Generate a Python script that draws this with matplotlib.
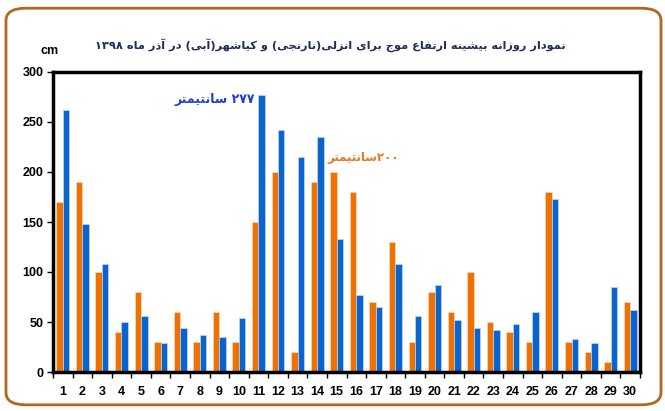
import numpy as np
import matplotlib.pyplot as plt
from matplotlib.patches import FancyBboxPatch

days = list(range(1, 31))
anzali = [170, 190, 100, 40, 80, 30, 60, 30, 60, 30, 150, 200, 20, 190, 200,
          180, 70, 130, 30, 80, 60, 100, 50, 40, 30, 180, 30, 20, 10, 70]
kiashahr = [262, 148, 108, 50, 56, 29, 44, 37, 35, 54, 277, 242, 215, 235, 133,
            77, 65, 108, 56, 87, 52, 44, 42, 48, 60, 173, 33, 29, 85, 62]

title = "نمودار روزانه بیشینه ارتفاع موج برای انزلی(نارنجی) و کیاشهر(آبی) در آذر ماه ۱۳۹۸"
note_blue = "۲۷۷ سانتیمتر"
note_orange = "۲۰۰سانتیمتر"

# presentation forms: isolated, final, initial, medial (None = no left join)
FORMS = {
    'ا': ('\uFE8D', '\uFE8E', None, None),
    'آ': ('\uFE81', '\uFE82', None, None),
    'ب': ('\uFE8F', '\uFE90', '\uFE91', '\uFE92'),
    'ت': ('\uFE95', '\uFE96', '\uFE97', '\uFE98'),
    'ج': ('\uFE9D', '\uFE9E', '\uFE9F', '\uFEA0'),
    'د': ('\uFEA9', '\uFEAA', None, None),
    'ذ': ('\uFEAB', '\uFEAC', None, None),
    'ر': ('\uFEAD', '\uFEAE', None, None),
    'ز': ('\uFEAF', '\uFEB0', None, None),
    'س': ('\uFEB1', '\uFEB2', '\uFEB3', '\uFEB4'),
    'ش': ('\uFEB5', '\uFEB6', '\uFEB7', '\uFEB8'),
    'ع': ('\uFEC9', '\uFECA', '\uFECB', '\uFECC'),
    'ف': ('\uFED1', '\uFED2', '\uFED3', '\uFED4'),
    'ل': ('\uFEDD', '\uFEDE', '\uFEDF', '\uFEE0'),
    'م': ('\uFEE1', '\uFEE2', '\uFEE3', '\uFEE4'),
    'ن': ('\uFEE5', '\uFEE6', '\uFEE7', '\uFEE8'),
    'ه': ('\uFEE9', '\uFEEA', '\uFEEB', '\uFEEC'),
    'و': ('\uFEED', '\uFEEE', None, None),
    'ی': ('\uFBFC', '\uFBFD', '\uFBFE', '\uFBFF'),
    'ک': ('\uFB8E', '\uFB8F', '\uFB90', '\uFB91'),
}


def shape(text):
    # join letters, then reverse for right-to-left display
    out = []
    n = len(text)
    for i, ch in enumerate(text):
        if ch not in FORMS:
            out.append(ch)
            continue
        prev = text[i - 1] if i > 0 else ''
        nxt = text[i + 1] if i < n - 1 else ''
        join_prev = prev in FORMS and FORMS[prev][2] is not None
        join_next = nxt in FORMS and FORMS[ch][2] is not None
        iso, fin, ini, med = FORMS[ch]
        if join_prev and join_next:
            out.append(med)
        elif join_prev:
            out.append(fin)
        elif join_next:
            out.append(ini)
        else:
            out.append(iso)
    # reverse, keeping digit runs in order and mirroring brackets
    runs = []
    for ch in out:
        isdig = '\u06F0' <= ch <= '\u06F9' or ch.isdigit()
        if isdig and runs and runs[-1][0]:
            runs[-1][1].append(ch)
        else:
            runs.append([isdig, [ch]])
    mirror = {'(': ')', ')': '('}
    res = ''
    for isdig, chars in reversed(runs):
        if isdig:
            res += ''.join(chars)
        else:
            res += ''.join(mirror.get(c, c) for c in reversed(chars))
    return res


orange = '#EE7203'
blue = '#0A64CC'

fig = plt.figure(figsize=(6.65, 4.11), dpi=100)
fig.patches.append(FancyBboxPatch((0.009, 0.015), 0.985, 0.965,
                                  boxstyle='round,pad=0,rounding_size=0.03',
                                  transform=fig.transFigure, fill=False,
                                  edgecolor='#B5651D', lw=2))

ax = fig.add_axes([53 / 665, 39 / 411, 587 / 665, 300 / 411])
x = np.array(days)
w = 0.33
ax.bar(x - 0.165, anzali, width=w, color=orange, edgecolor='#FFD9B8', lw=0.5)
ax.bar(x + 0.165, kiashahr, width=w, color=blue, edgecolor='#BFD8F5', lw=0.5)

ax.set_xlim(0.5, 30.5)
ax.set_ylim(0, 300)
ax.set_yticks(range(0, 301, 50))
ax.set_xticks(x)
ax.set_xticks(np.arange(0.5, 31, 1), minor=True)
ax.tick_params(axis='x', which='major', length=0, pad=10)
ax.tick_params(axis='x', which='minor', length=4, width=1)
ax.tick_params(axis='y', length=4, width=1, pad=3)
for lab in ax.get_xticklabels() + ax.get_yticklabels():
    lab.set_fontweight('bold')
    lab.set_fontsize(9)
    lab.set_family('Liberation Sans')
for s in ax.spines.values():
    s.set_linewidth(2.5)

ax.text(10.85, 272, shape(note_blue), color='#1F3FD8', fontsize=9,
        fontweight='bold', ha='right', va='center', family='DejaVu Sans')
ax.text(18.2, 214, shape(note_orange), color='#E87722', fontsize=8.5,
        fontweight='bold', ha='right', va='center', family='DejaVu Sans')

fig.text(330 / 665, 1 - 45 / 411, shape(title), ha='center', va='center',
         fontsize=8.2, fontweight='bold', color='#1F2D5A', family='DejaVu Sans')
fig.text(50 / 665, 1 - 51 / 411, 'cm', ha='center', va='center',
         fontsize=9, fontweight='bold', family='Liberation Sans')

fig.savefig('out.png', dpi=100)
